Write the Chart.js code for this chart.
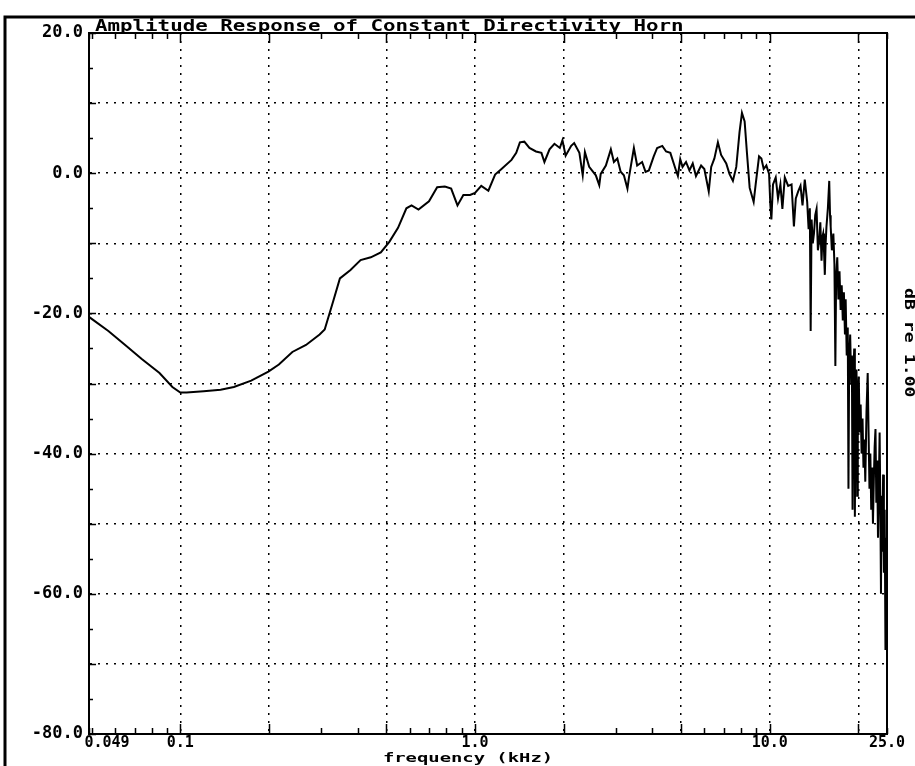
<!DOCTYPE html>
<html>
<head>
<meta charset="utf-8">
<script src="https://cdn.jsdelivr.net/npm/chart.js@4.4.1/dist/chart.umd.min.js"></script>
<style>
  html, body { margin: 0; padding: 0; background: #fff; }
  #wrap { width: 915px; height: 766px; position: relative; }
</style>
</head>
<body>
<div id="wrap"><canvas id="chart"></canvas></div>
<script>
// frequency (kHz) and level (dB)
var freqs = [
  0.049, 0.057, 0.065, 0.074, 0.085, 0.094, 0.1, 0.105, 0.12, 0.137,
  0.152, 0.174, 0.199, 0.216, 0.24, 0.267, 0.297, 0.309, 0.33, 0.348,
  0.378, 0.409, 0.443, 0.479, 0.512, 0.548, 0.585, 0.609, 0.643, 0.698,
  0.744, 0.79, 0.83, 0.872, 0.913, 0.962, 1.0, 1.05, 1.11, 1.17,
  1.23, 1.33, 1.38, 1.42, 1.47, 1.53, 1.61, 1.68, 1.72, 1.79,
  1.86, 1.94, 1.98, 2.03, 2.12, 2.17, 2.26, 2.32, 2.36, 2.44,
  2.57, 2.64, 2.67, 2.78, 2.89, 2.96, 3.04, 3.12, 3.2, 3.29,
  3.33, 3.46, 3.55, 3.69, 3.79, 3.89, 4.04, 4.15, 4.32, 4.45,
  4.6, 4.79, 4.88, 4.97, 5.06, 5.2, 5.34, 5.48, 5.62, 5.85,
  6.0, 6.21, 6.33, 6.49, 6.67, 6.84, 7.12, 7.3, 7.5, 7.7,
  7.9, 8.05, 8.22, 8.37, 8.55, 8.82, 8.96, 9.2, 9.37, 9.54,
  9.74, 9.95, 10.05, 10.13, 10.26, 10.48, 10.67, 10.87, 11.04, 11.25,
  11.55, 11.86, 12.08, 12.26, 12.49, 12.72, 12.92, 13.15, 13.4, 13.55,
  13.68, 13.77, 13.87, 14.0, 14.13, 14.27, 14.42, 14.57, 14.72, 14.85,
  14.99, 15.1, 15.18, 15.28, 15.38, 15.48, 15.58, 15.75, 15.92, 16.02,
  16.1, 16.25, 16.44, 16.58, 16.7, 16.8, 16.95, 17.1, 17.25, 17.4,
  17.55, 17.7, 17.85, 18.0, 18.1, 18.25, 18.4, 18.5, 18.6, 18.75,
  18.9, 19.0, 19.1, 19.2, 19.35, 19.45, 19.55, 19.7, 19.8, 19.9,
  20.05, 20.2, 20.35, 20.5, 20.65, 20.8, 20.95, 21.1, 21.3, 21.5,
  21.65, 21.8, 21.95, 22.1, 22.25, 22.4, 22.55, 22.7, 22.85, 23.0,
  23.15, 23.3, 23.45, 23.6, 23.75, 23.85, 23.95, 24.1, 24.25, 24.4,
  24.55, 24.7, 24.85, 25.0
];
var levels = [
  -20.5, -22.5, -24.5, -26.5, -28.5, -30.5, -31.3, -31.3, -31.1, -30.9,
  -30.5, -29.6, -28.3, -27.3, -25.5, -24.5, -23, -22.3, -18.3, -15,
  -13.8, -12.4, -12, -11.3, -9.8, -7.8, -5, -4.6, -5.2, -4,
  -2, -1.9, -2.2, -4.6, -3.1, -3.1, -2.8, -1.8, -2.5, -0.2,
  0.6, 1.9, 2.9, 4.4, 4.5, 3.6, 3.1, 2.9, 1.6, 3.4,
  4.2, 3.6, 4.7, 2.5, 3.9, 4.3, 2.9, -0.3, 3.0, 0.9,
  -0.3, -1.7, -0.1, 1.1, 3.4, 1.6, 2.1, 0.2, -0.3, -2.2,
  -0.6, 3.6, 1.1, 1.6, 0.2, 0.4, 2.4, 3.6, 3.9, 3.1,
  2.9, 0.6, -0.4, 2.0, 0.9, 1.6, 0.4, 1.4, -0.4, 1.1,
  0.6, -2.6, 0.9, 2.1, 4.4, 2.6, 1.4, -0.1, -1.1, 0.9,
  5.9, 8.6, 7.4, 2.9, -2.1, -4.1, -1.6, 2.4, 2.1, 0.6,
  1.1, -0.1, -4.6, -6.6, -1.6, -0.6, -3.6, -1.6, -5.1, -0.6,
  -1.8, -1.6, -7.6, -3.6, -2.6, -1.8, -4.6, -0.9, -4.1, -8,
  -5, -22.5, -6.6, -10, -8.6, -6, -5.1, -11, -9.6, -7,
  -12.5, -9, -8.6, -11, -14.5, -10, -7.6, -5, -1.1, -6,
  -7.6, -11, -8.6, -13, -27.5, -15, -12, -18, -14, -19.5,
  -16, -21, -17, -23, -18, -26, -22, -45, -27, -23,
  -30, -26, -48, -29, -25, -49, -31, -28, -46, -32,
  -29, -37, -33, -40, -35, -42, -38, -44, -34, -28.5,
  -37, -45, -40, -48, -42, -50, -44, -39, -36.5, -47,
  -41, -52, -45, -37, -49, -60, -46, -54, -43, -57,
  -48, -68, -52, -58
];

// axis ticks
var xTickValues = [0.049, 0.05, 0.06, 0.07, 0.08, 0.09, 0.1, 0.2, 0.3, 0.4, 0.5, 0.6, 0.7, 0.8, 0.9,
  1, 2, 3, 4, 5, 6, 7, 8, 9, 10, 20, 25];
var xGridValues = [0.1, 0.2, 0.5, 1, 2, 5, 10, 20];
var xLabels = { 0.049: '\u00a0\u00a0\u00a0\u00a00.049', 0.1: '0.1', 1: '1.0', 10: '10.0', 25: '25.0' };
var yLabelStep = 20;

var monoFont = "'DejaVu Sans Mono', monospace";

var points = freqs.map(function (f, i) { return { x: f, y: levels[i] }; });

var decor = {
  id: 'decor',
  afterDraw: function (chart) {
    var ctx = chart.ctx;
    var a = chart.chartArea;
    var xs = chart.scales.x;
    var ys = chart.scales.y;
    ctx.save();
    ctx.strokeStyle = '#000';
    ctx.fillStyle = '#000';

    // outer frame (left and top)
    ctx.lineWidth = 3;
    ctx.beginPath();
    ctx.moveTo(5, 766);
    ctx.lineTo(5, 17);
    ctx.lineTo(915, 17);
    ctx.stroke();

    // plot frame
    ctx.lineWidth = 2;
    ctx.strokeRect(a.left, a.top, a.right - a.left, a.bottom - a.top);

    // tick marks inside the frame
    ctx.lineWidth = 1.5;
    ctx.beginPath();
    xTickValues.forEach(function (v) {
      var px = Math.round(xs.getPixelForValue(v)) + 0.5;
      var len = xGridValues.indexOf(v) >= 0 ? 10 : 6;
      ctx.moveTo(px, a.bottom); ctx.lineTo(px, a.bottom - len);
      ctx.moveTo(px, a.top); ctx.lineTo(px, a.top + len);
    });
    for (var d = -80; d <= 20; d += 5) {
      var py = Math.round(ys.getPixelForValue(d)) + 0.5;
      var l = d % 10 === 0 ? 7 : 4;
      ctx.moveTo(a.left, py); ctx.lineTo(a.left + l, py);
    }
    ctx.stroke();

    // title
    ctx.save();
    ctx.font = 'bold 16px ' + monoFont;
    ctx.textBaseline = 'alphabetic';
    ctx.translate(a.left + 6, a.top - 2);
    ctx.scale(1.3, 1);
    ctx.fillText('Amplitude Response of Constant Directivity Horn', 0, 0);
    ctx.restore();

    // x axis title
    ctx.save();
    ctx.font = 'bold 13px ' + monoFont;
    ctx.textAlign = 'center';
    ctx.textBaseline = 'alphabetic';
    ctx.translate(468, 762);
    ctx.scale(1.45, 1);
    ctx.fillText('frequency (kHz)', 0, 0);
    ctx.restore();

    // rotated units note at right
    ctx.save();
    ctx.font = 'bold 14px ' + monoFont;
    ctx.textAlign = 'left';
    ctx.textBaseline = 'middle';
    ctx.translate(909, 288);
    ctx.rotate(Math.PI / 2);
    ctx.scale(1.3, 1);
    ctx.fillText('dB re 1.00', 0, 0);
    ctx.restore();

    ctx.restore();
  }
};

var ctx = document.getElementById('chart').getContext('2d');
var chart = new Chart(ctx, {
  type: 'line',
  data: {
    datasets: [{
      data: points,
      borderColor: '#000',
      borderWidth: 2,
      pointRadius: 0,
      tension: 0,
      fill: false
    }]
  },
  options: {
    responsive: true,
    maintainAspectRatio: false,
    animation: false,
    layout: { padding: { top: 33, right: 28, left: 0, bottom: 0 } },
    plugins: { legend: { display: false }, tooltip: { enabled: false }, title: { display: false } },
    scales: {
      x: {
        type: 'logarithmic',
        min: 0.049,
        max: 25,
        afterBuildTicks: function (scale) {
          scale.ticks = xTickValues.map(function (v) { return { value: v }; });
        },
        afterFit: function (scale) { scale.height = 32; },
        ticks: {
          autoSkip: false,
          maxRotation: 0,
          padding: 0,
          color: '#000',
          font: { family: monoFont, size: 15, weight: 'bold' },
          callback: function (value) { return xLabels[value] || ''; }
        },
        grid: {
          drawTicks: false,
          lineWidth: 1.5,
          color: function (c) {
            return c.tick && xGridValues.indexOf(c.tick.value) >= 0 ? '#000' : 'rgba(0,0,0,0)';
          }
        },
        border: { display: true, color: '#000', width: 2, dash: [2, 6] }
      },
      y: {
        min: -80,
        max: 20,
        afterFit: function (scale) { scale.width = 89; },
        ticks: {
          stepSize: 10,
          padding: 6,
          color: '#000',
          font: { family: monoFont, size: 17, weight: 'bold' },
          callback: function (value) { return value % yLabelStep === 0 ? value.toFixed(1) : ''; }
        },
        grid: { drawTicks: false, lineWidth: 1.5, color: '#000' },
        border: { display: true, color: '#000', width: 2, dash: [2, 6] }
      }
    }
  },
  plugins: [decor]
});
</script>
</body>
</html>
